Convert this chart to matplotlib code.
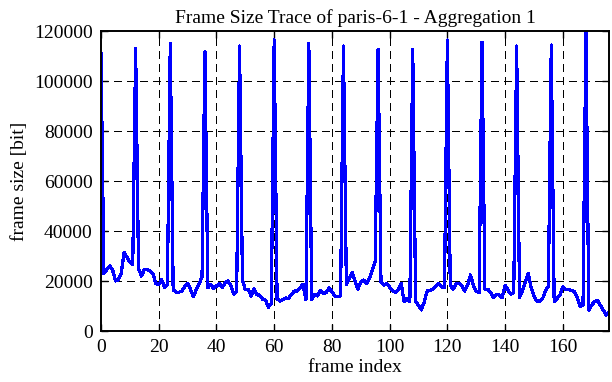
import matplotlib
matplotlib.use("Agg")
import matplotlib.pyplot as plt
import numpy as np

title = "Frame Size Trace of paris-6-1 - Aggregation 1"
x_label = "frame index"
y_label = "frame size [bit]"
x_ticks = [0, 20, 40, 60, 80, 100, 120, 140, 160]
y_ticks = [0, 20000, 40000, 60000, 80000, 100000, 120000]

frame_size = [
    111000, 23000, 24500, 26000, 24500, 20000, 20500, 23000, 31500, 29500,
    27500, 26500, 113000, 25000, 22000, 24500, 24500, 24000, 23000, 19000,
    18500, 20500, 17500, 18500, 115000, 16500, 15500, 15500, 16000, 17700,
    19000, 16700, 13700, 16500, 19000, 21500, 111700, 17300, 18700, 16900,
    18000, 19000, 17300, 19400, 20000, 18000, 14700, 16000, 114000, 20400,
    16500, 16700, 14000, 17000, 14500, 14300, 12700, 12300, 9500, 11000,
    116400, 12800, 12000, 12500, 13200, 13000, 14700, 16000, 16000, 17300,
    18700, 12500, 115000, 12500, 14700, 14000, 16300, 15000, 15300, 17300,
    15700, 14000, 13800, 14000, 114000, 18500, 21000, 23500, 20000, 16800,
    19500, 20400, 19000, 21000, 24400, 27700, 112700, 19700, 18300, 19000,
    17500, 16300, 15300, 16700, 19000, 11700, 13000, 11700, 112700, 11700,
    10300, 8400, 11700, 16000, 16300, 16700, 18000, 19000, 17700, 17300,
    116400, 18300, 16700, 19000, 19000, 18300, 16000, 18300, 22400, 18300,
    16000, 15300, 115500, 16700, 16700, 15300, 13300, 14700, 14400, 13300,
    18300, 16400, 14700, 15500, 114000, 13500, 16000, 19500, 23000, 17500,
    14000, 12000, 12000, 13000, 16000, 18000, 114400, 11700, 13000, 14300,
    17700, 16700, 16500, 16300, 15700, 13300, 9700, 10400, 119700, 8400,
    10400, 11700, 12300, 10300, 8400, 6400, 7700, 8400,
]
frames = np.arange(len(frame_size))

plt.rcParams['font.family'] = ['Liberation Serif', 'DejaVu Serif']
plt.rcParams['font.size'] = 14

fig = plt.figure(figsize=(6.12, 3.82), dpi=100)
ax = fig.add_axes([101/612, 51/382, 508/612, 300/382])

ax.plot(frames, frame_size, color=(0, 0, 1), lw=1.6, zorder=3,
        antialiased=False)

ax.set_xlim(0, 176)
ax.set_ylim(0, 120000)
ax.set_xticks(x_ticks)
ax.set_yticks(y_ticks)
ax.set_xticklabels([str(t) for t in x_ticks])
ax.set_yticklabels([str(t) for t in y_ticks])

for t in x_ticks[1:]:
    ax.axvline(t, color='black', lw=0.8, ls=(0, (6.5, 4.5)), zorder=1,
               antialiased=False)
for t in y_ticks[1:-1]:
    ax.axhline(t, color='black', lw=0.8, ls=(0, (6.5, 4.5)), zorder=1,
               antialiased=False)

ax.tick_params(direction='in', length=5, width=1, top=True, right=True,
               labelsize=14, pad=6)
for s in ax.spines.values():
    s.set_linewidth(1.4)
    s.set_zorder(4)

ax.set_title(title, fontsize=14, pad=6)
ax.set_xlabel(x_label, fontsize=14, labelpad=2)
ax.set_ylabel(y_label, fontsize=14, labelpad=4)

fig.savefig("out.png", dpi=100)
